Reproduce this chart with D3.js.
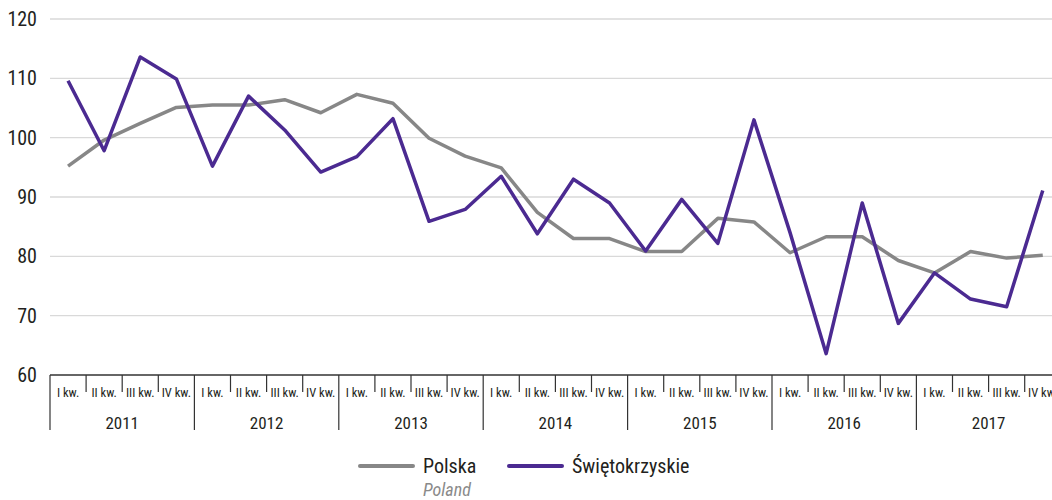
<!DOCTYPE html>
<html>
<head>
<meta charset="utf-8">
<script src="https://cdn.jsdelivr.net/npm/d3@7"></script>
<style>
  body { margin: 0; background: #fff; }
  svg { display: block; font-family: "Liberation Sans Narrow", "Roboto Condensed", "Liberation Sans", sans-serif; }
</style>
</head>
<body>
<svg width="1052" height="500"></svg>
<script>
// data
var years = ["2011", "2012", "2013", "2014", "2015", "2016", "2017"];
var quarters = ["I kw.", "II kw.", "III kw.", "IV kw."];
var yTicks = [60, 70, 80, 90, 100, 110, 120];
var polska = [95.2, 99.6, 102.4, 105.1, 105.5, 105.5, 106.4, 104.2,
              107.3, 105.8, 99.9, 96.9, 94.9, 87.4, 83.0, 83.0,
              80.8, 80.8, 86.4, 85.8, 80.6, 83.3, 83.3, 79.3,
              77.2, 80.8, 79.7, 80.2];
var swietokrzyskie = [109.6, 97.8, 113.6, 109.9, 95.2, 107.0, 101.3, 94.2,
                      96.8, 103.2, 85.9, 87.9, 93.5, 83.8, 93.0, 89.0,
                      80.9, 89.6, 82.2, 103.0, 84.0, 63.6, 89.0, 68.7,
                      77.2, 72.8, 71.5, 91.1];

var svg = d3.select("svg"),
    margin = {left: 50, right: 1052, top: 19, bottom: 375},
    qw = 36.1;

// one band per quarter
var idx = d3.range(years.length * 4);
var x = d3.scaleBand().domain(idx).range([margin.left, margin.left + idx.length * qw]);
var y = d3.scaleLinear().domain([60, 120]).range([margin.bottom, margin.top]);

// grid
svg.append("g").selectAll("line")
  .data(yTicks.slice(1))
  .enter().append("line")
  .attr("x1", margin.left).attr("x2", margin.right)
  .attr("y1", function(d){ return y(d); }).attr("y2", function(d){ return y(d); })
  .attr("stroke", "#d9d9d9").attr("stroke-width", 1.3);

// y labels
svg.append("g").selectAll("text")
  .data(yTicks)
  .enter().append("text")
  .attr("x", 37).attr("y", function(d){ return y(d) + 7; })
  .attr("text-anchor", "end")
  .attr("font-size", 20).attr("fill", "#231f20")
  .text(function(d){ return d; });

// x axis line
svg.append("line")
  .attr("x1", margin.left).attr("x2", margin.right)
  .attr("y1", margin.bottom).attr("y2", margin.bottom)
  .attr("stroke", "#333").attr("stroke-width", 1.5);

// quarter separators, long at year boundaries
svg.append("g").selectAll("line")
  .data(idx)
  .enter().append("line")
  .attr("x1", function(d){ return x(d); }).attr("x2", function(d){ return x(d); })
  .attr("y1", margin.bottom)
  .attr("y2", function(d){ return d % 4 === 0 ? 430 : 392; })
  .attr("stroke", "#333").attr("stroke-width", 1.2);

svg.append("g").selectAll("text")
  .data(idx)
  .enter().append("text")
  .attr("x", function(d){ return x(d) + x.bandwidth() / 2; })
  .attr("y", 397)
  .attr("text-anchor", "middle")
  .attr("font-size", 12.5).attr("fill", "#231f20")
  .text(function(d){ return quarters[d % 4]; });

svg.append("g").selectAll("text")
  .data(years)
  .enter().append("text")
  .attr("x", function(d, i){ return x(i * 4) + 2 * qw; })
  .attr("y", 429)
  .attr("text-anchor", "middle")
  .attr("font-size", 17).attr("fill", "#231f20")
  .text(function(d){ return d; });

// lines
var line = d3.line()
  .x(function(d, i){ return x(i) + x.bandwidth() / 2; })
  .y(function(d){ return y(d); });

svg.append("path").datum(polska)
  .attr("d", line).attr("fill", "none")
  .attr("stroke", "#878787").attr("stroke-width", 3.5)
  .attr("stroke-linejoin", "round");

svg.append("path").datum(swietokrzyskie)
  .attr("d", line).attr("fill", "none")
  .attr("stroke", "#4b2a91").attr("stroke-width", 3.5)
  .attr("stroke-linejoin", "round");

// legend
var legend = [
  {name: "Polska", sub: "Poland", color: "#878787", x: 360},
  {name: "Świętokrzyskie", sub: "", color: "#4b2a91", x: 509}
];
var lg = svg.append("g").selectAll("g")
  .data(legend)
  .enter().append("g");
lg.append("line")
  .attr("x1", function(d){ return d.x; }).attr("x2", function(d){ return d.x + 53; })
  .attr("y1", 466).attr("y2", 466)
  .attr("stroke", function(d){ return d.color; }).attr("stroke-width", 4)
  .attr("stroke-linecap", "round");
lg.append("text")
  .attr("x", function(d){ return d.x + 63; }).attr("y", 473)
  .attr("font-size", 20).attr("fill", "#231f20")
  .text(function(d){ return d.name; });
lg.append("text")
  .attr("x", function(d){ return d.x + 63; }).attr("y", 496)
  .attr("font-size", 18).attr("font-style", "italic").attr("fill", "#8a8a8a")
  .text(function(d){ return d.sub; });
</script>
</body>
</html>
